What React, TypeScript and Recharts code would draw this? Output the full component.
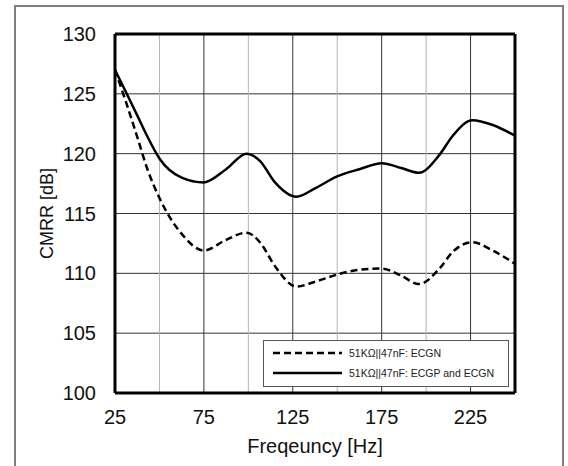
import * as React from 'react';
import {
  LineChart,
  Line,
  XAxis,
  YAxis,
  CartesianGrid,
  ReferenceLine,
  Legend,
} from 'recharts';

// frequency points (Hz) and CMRR readings (dB)
const freqs = [25, 31, 37.5, 43, 50, 62.5, 75, 87.5, 99, 106.5, 115, 127, 137.5, 150, 162.5, 175, 186, 196, 207.5, 215, 226, 237.5, 250];
const ecgnOnly = [127.0, 124.4, 121.4, 118.8, 116.3, 113.3, 111.9, 112.8, 113.4, 112.6, 110.6, 108.9, 109.3, 109.9, 110.3, 110.4, 109.8, 109.1, 110.4, 111.8, 112.6, 111.9, 110.8];
const ecgpAndEcgn = [127.0, 125.2, 123.2, 121.5, 119.6, 118.0, 117.6, 118.7, 120.0, 119.4, 117.6, 116.4, 117.1, 118.1, 118.7, 119.2, 118.8, 118.4, 119.9, 121.5, 122.8, 122.4, 121.5];

const xTicks = [25, 75, 125, 175, 225];
const minorX = [50, 100, 150, 200];
const yTicks = [100, 105, 110, 115, 120, 125, 130];

const data = freqs.map((f, i) => ({ f, dashed: ecgnOnly[i], solid: ecgpAndEcgn[i] }));

const FONT = '"Liberation Sans", Arial, sans-serif';

const LegendBox = () => (
  <div style={{ width: 246, height: 47, background: '#fff', border: '1px solid #555', boxSizing: 'border-box', position: 'relative' }}>
    <svg width={244} height={45} style={{ position: 'absolute', left: 0, top: 0 }}>
      <line x1={9} x2={78} y1={12} y2={12} stroke="#000" strokeWidth={2.5} strokeDasharray="7 4" />
      <text x={85} y={12} dy="0.35em" fontSize={10.5} fontFamily={FONT} fill="#222">51KΩ||47nF: ECGN</text>
      <line x1={9} x2={78} y1={32} y2={32} stroke="#000" strokeWidth={2.5} />
      <text x={85} y={32} dy="0.35em" fontSize={10.5} fontFamily={FONT} fill="#222">51KΩ||47nF: ECGP and ECGN</text>
    </svg>
  </div>
);

export default function App() {
  return (
    <div style={{ position: 'absolute', left: 0, top: 0, width: 568, height: 466, background: '#fff', overflow: 'hidden', fontFamily: FONT }}>
      <div style={{ position: 'absolute', left: 14, top: 5, width: 546, height: 480, borderLeft: '2px solid #7f7f7f', borderTop: '2px solid #7f7f7f', borderRight: '2px solid #7f7f7f' }} />
      <LineChart width={568} height={466} data={data} margin={{ top: 34, right: 53, left: 35, bottom: 43 }}>
        <CartesianGrid stroke="#333" vertical={true} horizontal={true} />
        {minorX.map((x) => (
          <ReferenceLine key={x} x={x} stroke="#b4b4b4" strokeWidth={1} />
        ))}
        <XAxis
          dataKey="f"
          type="number"
          domain={[25, 250]}
          ticks={xTicks}
          tickLine={false}
          axisLine={false}
          tickSize={0}
          tickMargin={17}
          height={30}
          tick={{ fill: '#111', fontSize: 20, fontFamily: FONT }}
          label={{ value: 'Freqeuncy [Hz]', position: 'bottom', offset: 16, fill: '#111', fontSize: 20, fontFamily: FONT }}
        />
        <YAxis
          type="number"
          domain={[100, 130]}
          ticks={yTicks}
          tickLine={false}
          axisLine={false}
          tickSize={0}
          tickMargin={19}
          width={80}
          tick={{ fill: '#111', fontSize: 20, fontFamily: FONT }}
          label={{ value: 'CMRR [dB]', angle: -90, position: 'insideLeft', offset: 12, style: { textAnchor: 'middle' }, fill: '#111', fontSize: 18, fontFamily: FONT }}
        />
        <Line type="monotone" dataKey="dashed" stroke="#000" strokeWidth={2.5} strokeDasharray="7 4" dot={false} isAnimationActive={false} />
        <Line type="monotone" dataKey="solid" stroke="#000" strokeWidth={2.5} dot={false} isAnimationActive={false} />
        <ReferenceLine x={25} stroke="#000" strokeWidth={3} />
        <ReferenceLine x={250} stroke="#000" strokeWidth={3} />
        <ReferenceLine y={100} stroke="#000" strokeWidth={3} />
        <ReferenceLine y={130} stroke="#000" strokeWidth={3} />
        <Legend
          layout="horizontal"
          verticalAlign="middle"
          align="center"
          content={() => <LegendBox />}
          wrapperStyle={{ left: 263, top: 340, width: 246, height: 47 }}
        />
      </LineChart>
    </div>
  );
}
